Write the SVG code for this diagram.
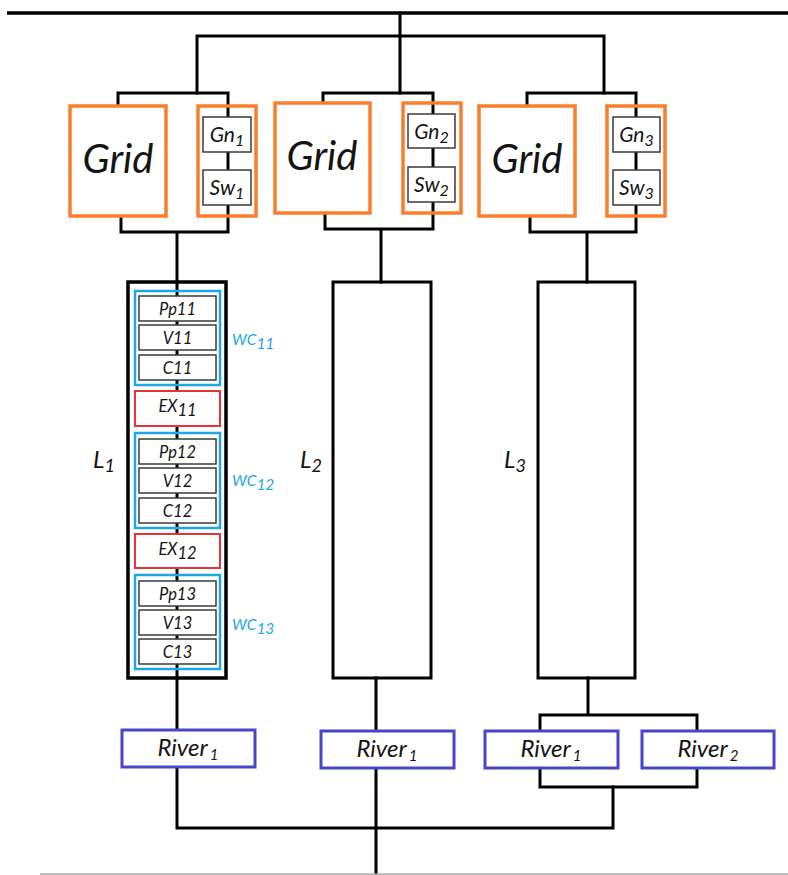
<svg xmlns="http://www.w3.org/2000/svg" width="788" height="875" viewBox="0 0 788 875">
<style>
.w{stroke:#000;stroke-width:3;fill:none;stroke-linecap:square}
.og{stroke:#fb7d2c;stroke-width:3.5;fill:#fff}
.on{stroke:#fb7d2c;stroke-width:3.5;fill:none}
.gb{stroke:#3a3a3a;stroke-width:1.5;fill:#fff}
.lb{stroke:#000;stroke-width:3;fill:none}
.wc{stroke:#1ea6e6;stroke-width:2.5;fill:none}
.ex{stroke:#e8323a;stroke-width:2;fill:#fff}
.rv{stroke:#4646c8;stroke-width:3;fill:#fff}
text{font-family:Lato,"Open Sans","Liberation Sans",sans-serif;font-style:italic;fill:#141414}
.grid{font-size:40px;text-anchor:middle}
.gn{font-size:21px;text-anchor:middle}
.sm{font-size:16.5px;text-anchor:middle}
.wct{font-size:15.5px;fill:#1ea6e6}
.lt{font-size:24px}
.rt{font-size:24px;text-anchor:middle}
</style>
<g id="connectors">
<line x1="7" y1="13" x2="788" y2="13" class="w" style="stroke-width:3.5;stroke-linecap:butt"/>
<path class="w" d="M400 13V93M197 36H604M197 36V93M604 36V93"/>
<path class="w" d="M118 106V93H228V232H121V216M177 232V730"/>
<path class="w" d="M323 103V93H433V229H325V213M381 229V282"/>
<path class="w" d="M527 106V93H636V232H530V216M587 232V282"/>
<path class="w" d="M177 767V828H613V787M376 678V731M376 768V875"/>
<path class="w" d="M588 678V715M540 731V715H697V731M540 768V787H697V768"/>
<line x1="40" y1="874" x2="788" y2="874" style="stroke:#aaa;stroke-width:1.5"/>
</g>
<g id="grid1"><rect x="70" y="106" width="96" height="110" class="og"/><text x="118" y="173" class="grid">Grid</text></g>
<g id="gensw1"><rect x="198" y="106" width="58" height="110" class="on"/>
<rect x="203" y="117" width="48" height="35" class="gb"/><text x="227" y="142" class="gn">Gn<tspan font-size="16" dy="4">1</tspan></text>
<rect x="203" y="170" width="48" height="35" class="gb"/><text x="227" y="195" class="gn">Sw<tspan font-size="16" dy="4">1</tspan></text></g>
<g id="grid2"><rect x="275" y="103" width="95" height="110" class="og"/><text x="322" y="170" class="grid">Grid</text></g>
<g id="gensw2"><rect x="403" y="103" width="58" height="110" class="on"/>
<rect x="408" y="114" width="47" height="34" class="gb"/><text x="431.5" y="139" class="gn">Gn<tspan font-size="16" dy="4">2</tspan></text>
<rect x="408" y="167" width="47" height="35" class="gb"/><text x="431.5" y="192" class="gn">Sw<tspan font-size="16" dy="4">2</tspan></text></g>
<g id="grid3"><rect x="479" y="106" width="96" height="110" class="og"/><text x="527" y="173" class="grid">Grid</text></g>
<g id="gensw3"><rect x="607" y="106" width="58" height="110" class="on"/>
<rect x="613" y="117" width="47" height="35" class="gb"/><text x="636.5" y="142" class="gn">Gn<tspan font-size="16" dy="4">3</tspan></text>
<rect x="613" y="170" width="47" height="35" class="gb"/><text x="636.5" y="195" class="gn">Sw<tspan font-size="16" dy="4">3</tspan></text></g>
<g id="L1"><rect x="128" y="282" width="98" height="396" class="lb" style="stroke-width:3.5"/><text x="93" y="468" class="lt">L<tspan font-size="18" dy="4">1</tspan></text></g>
<g id="wc11"><rect x="135" y="291" width="85" height="94" class="wc"/>
<rect x="139" y="296" width="77" height="25" class="gb"/><text x="177.5" y="314.5" class="sm">Pp11</text>
<rect x="139" y="325" width="77" height="25" class="gb"/><text x="177.5" y="343.5" class="sm">V11</text>
<rect x="139" y="355" width="77" height="25" class="gb"/><text x="177.5" y="373.5" class="sm">C11</text>
<text x="232" y="345" class="wct">WC<tspan dy="4">11</tspan></text></g>
<g id="ex11"><rect x="135" y="391" width="85" height="35" class="ex"/><text x="177.5" y="412" class="sm">EX<tspan dy="4">11</tspan></text></g>
<g id="wc12"><rect x="135" y="433" width="85" height="95" class="wc"/>
<rect x="139" y="439" width="77" height="25" class="gb"/><text x="177.5" y="457.5" class="sm">Pp12</text>
<rect x="139" y="468" width="77" height="25" class="gb"/><text x="177.5" y="486.5" class="sm">V12</text>
<rect x="139" y="498" width="77" height="25" class="gb"/><text x="177.5" y="516.5" class="sm">C12</text>
<text x="232" y="486" class="wct">WC<tspan dy="4">12</tspan></text></g>
<g id="ex12"><rect x="135" y="534" width="85" height="34" class="ex"/><text x="177.5" y="555" class="sm">EX<tspan dy="4">12</tspan></text></g>
<g id="wc13"><rect x="135" y="575" width="85" height="94" class="wc"/>
<rect x="139" y="581" width="77" height="25" class="gb"/><text x="177.5" y="599.5" class="sm">Pp13</text>
<rect x="139" y="610" width="77" height="25" class="gb"/><text x="177.5" y="628.5" class="sm">V13</text>
<rect x="139" y="639" width="77" height="25" class="gb"/><text x="177.5" y="657.5" class="sm">C13</text>
<text x="232" y="630" class="wct">WC<tspan dy="4">13</tspan></text></g>
<g id="L2"><rect x="333" y="282" width="98" height="396" class="lb"/><text x="300" y="468" class="lt">L<tspan font-size="18" dy="4">2</tspan></text></g>
<g id="L3"><rect x="538" y="282" width="97" height="396" class="lb"/><text x="504" y="468" class="lt">L<tspan font-size="18" dy="4">3</tspan></text></g>
<g id="river1a"><rect x="122" y="730" width="133" height="37" class="rv"/><text x="188" y="756" class="rt">River<tspan font-size="15" dx="2" dy="4">1</tspan></text></g>
<g id="river1b"><rect x="321" y="731" width="133" height="37" class="rv"/><text x="387" y="757" class="rt">River<tspan font-size="15" dx="2" dy="4">1</tspan></text></g>
<g id="river1c"><rect x="485" y="731" width="133" height="37" class="rv"/><text x="551" y="757" class="rt">River<tspan font-size="15" dx="2" dy="4">1</tspan></text></g>
<g id="river2"><rect x="642" y="731" width="132" height="37" class="rv"/><text x="708" y="757" class="rt">River<tspan font-size="15" dx="2" dy="4">2</tspan></text></g>
</svg>
